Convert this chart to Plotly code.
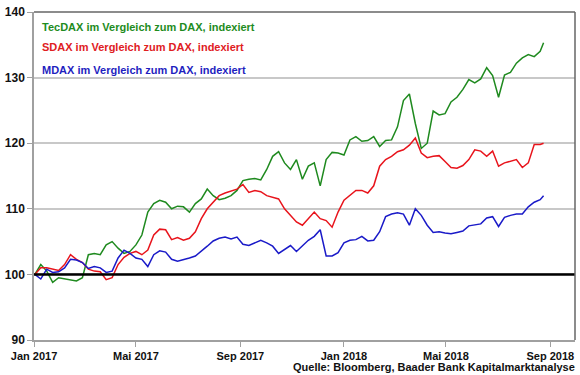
import pandas as pd
import plotly.graph_objects as go

# weekly observation dates (Mon) + last data day
dates = list(pd.date_range("2017-01-02", periods=86, freq="7D").strftime("%Y-%m-%d")) + ["2018-08-24"]

tecdax = [100, 101.5, 100.5, 98.8, 99.5, 99.3, 99.2, 99.0, 99.5, 103,
          103.2, 103, 104.5, 105, 104, 103.2, 103.5, 104.5, 106, 109.5,
          110.8, 111.3, 111, 110, 110.4, 110.3, 109.5, 110.8, 111.5, 113,
          112, 111.4, 111.6, 112, 112.8, 114.3, 114.5, 114.6, 114.4, 116,
          118, 118.7, 117, 116, 117.5, 114.5, 116.5, 117, 113.5, 117.5,
          118.6, 118.5, 118.2, 120.5, 121, 120.3, 120.4, 121, 119.5, 120.4,
          120.5, 122.5, 126.5, 127.5, 123, 119.2, 120, 124.9, 124.3, 124.5,
          126.3, 127, 128.2, 129.7, 129.2, 129.8, 131.5, 130.3, 127, 130.4,
          130.8, 132.2, 133, 133.5, 133.2, 134, 135.3]

sdax = [100, 101, 101, 100.8, 100.6, 101.5, 103, 102.3, 101.8, 100.8,
        100.5, 100.4, 99.2, 99.5, 101.5, 102.6, 103.2, 103.5, 103, 103.7,
        106, 106.9, 106.8, 105.3, 105.6, 105.2, 105.5, 106.5, 108.5, 110,
        111, 112, 112.4, 112.7, 113, 113.7, 112.5, 112.8, 112.6, 112,
        111.8, 111.5, 110, 109, 108, 107.5, 108.5, 109.5, 108.5, 108.2,
        107.2, 109.5, 111.3, 112, 112.8, 112.8, 112.4, 113.5, 116.5, 117.5,
        118, 118.7, 119, 119.7, 120.8, 118.5, 117.8, 118, 118.1, 117.2,
        116.3, 116.2, 116.6, 117.5, 119, 118.8, 118, 118.8, 116.5, 117,
        117.2, 117.5, 116.3, 117, 119.8, 119.8, 120]

mdax = [100, 99.3, 100.8, 100.3, 100.4, 101, 102.3, 102.2, 101.8, 100.9,
        101.2, 101, 100.3, 100.5, 102.5, 103.7, 103.2, 102.5, 102.3, 101.2,
        103, 103.6, 103.4, 102.3, 102, 102.2, 102.5, 102.8, 103.5, 104.3,
        105.1, 105.5, 105.7, 105.4, 105.7, 104.6, 104.4, 104.8, 105.2, 104.8,
        104.3, 103.2, 103.8, 104.4, 103.5, 104.3, 105.2, 105.8, 106.8, 102.8,
        102.8, 103.3, 104.8, 105.2, 105.3, 105.8, 105.1, 105.2, 106.5, 108.8,
        109.2, 109.4, 109.2, 107.5, 110, 109, 107.5, 106.4, 106.5, 106.3,
        106.2, 106.4, 106.6, 107.4, 107.5, 107.7, 108.6, 108.8, 107.3, 108.7,
        109, 109.2, 109.2, 110.3, 111, 111.4, 112]

tick_dates = ["2017-01-01", "2017-05-01", "2017-09-01", "2018-01-01", "2018-05-01", "2018-09-01"]
tick_labels = ["Jan 2017", "Mai 2017", "Sep 2017", "Jan 2018", "Mai 2018", "Sep 2018"]
y_ticks = [90, 100, 110, 120, 130, 140]

series_names = ["TecDAX im Vergleich zum DAX, indexiert",
                "SDAX im Vergleich zum DAX, indexiert",
                "MDAX im Vergleich zum DAX, indexiert"]
line_colors = ["#1f8a1f", "#e8141c", "#1a1ac8"]
text_colors = ["#1e8c1e", "#e0201f", "#1f1fbf"]

FONT = "Liberation Sans, Arial, sans-serif"

fig = go.Figure()
for vals, name, col in zip([tecdax, sdax, mdax], series_names, line_colors):
    fig.add_trace(go.Scatter(x=dates, y=vals, mode="lines", name=name,
                             line=dict(color=col, width=1.5), showlegend=False))

# black reference line at 100
fig.add_shape(type="line", xref="paper", x0=0, x1=1, yref="y", y0=100, y1=100,
              line=dict(color="black", width=2.5), layer="above")
# top and right frame
fig.add_shape(type="line", xref="paper", yref="paper", x0=0, x1=1, y0=1, y1=1,
              line=dict(color="#666666", width=1.5))
fig.add_shape(type="line", xref="paper", yref="paper", x0=1, x1=1, y0=0, y1=1,
              line=dict(color="#666666", width=1.5))

# legend-like titles
for i, (name, col) in enumerate(zip(series_names, text_colors)):
    fig.add_annotation(text=f"<b>{name}</b>", xref="paper", yref="paper",
                       x=0.011, y=[0.955, 0.892, 0.823][i], xanchor="left", yanchor="middle",
                       showarrow=False, font=dict(family=FONT, size=11, color=col))

fig.add_annotation(text="<b>Quelle: Bloomberg, Baader Bank Kapitalmarktanalyse</b>",
                   xref="paper", yref="paper", x=1.004, y=-0.081, xanchor="right",
                   yanchor="middle", showarrow=False,
                   font=dict(family=FONT, size=11, color="#111111"))

fig.update_layout(
    width=580, height=375,
    margin=dict(l=30, r=5, t=8, b=35),
    paper_bgcolor="white", plot_bgcolor="white",
    font=dict(family=FONT, size=11, color="#111111"),
    xaxis=dict(range=["2017-01-01", "2018-09-30"], tickvals=tick_dates, ticktext=[f"<b>{t}</b>" for t in tick_labels],
               showgrid=False, showline=True, linecolor="#a0a0a0", linewidth=1.5,
               ticks="outside", ticklen=5, tickcolor="#a0a0a0", zeroline=False,
               tickfont=dict(family=FONT, size=11, color="#111111")),
    yaxis=dict(range=[90, 140], tickvals=y_ticks, ticktext=[f"<b>{v}</b>" for v in y_ticks],
               showgrid=True, gridcolor="#c8c8c8", gridwidth=1.5,
               showline=True, linecolor="#a0a0a0", linewidth=1.5,
               ticks="outside", ticklen=5, tickcolor="#a0a0a0", zeroline=False,
               tickfont=dict(family=FONT, size=12, color="#111111")),
)

fig.write_html("out.html", config={"displayModeBar": False},
               post_script="document.body.style.margin='0px';")
